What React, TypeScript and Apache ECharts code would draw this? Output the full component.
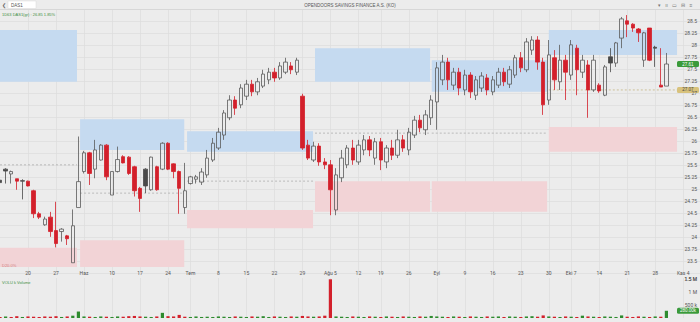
import React, { useEffect, useRef } from "react";
import * as echarts from "echarts";

// ---------- DATA ----------
const CATEGORY_COUNT = 126; // trading-day slots (incl. a few future slots on the right)

const weekTicks: [number, string][] = [
  [5, "20"], [10, "27"], [15, "Haz"], [20, "10"], [25, "17"], [30, "24"],
  [34, "Tem"], [39, "8"], [44, "15"], [49, "22"], [54, "29"], [59, "Ağu 5"],
  [64, "12"], [68, "19"], [73, "26"], [78, "Eyl"], [83, "9"], [88, "16"],
  [93, "23"], [98, "30"], [102, "Eki 7"], [107, "14"], [112, "21"], [117, "28"],
  [122, "Kas 4"],
];

// [open, close, low, high]
const candles: number[][] = [
  [25.19, 25.14, 25.02, 25.25], [25.42, 25.38, 25.12, 25.44], [25.32, 25.37, 25.12, 25.39],
  [25.22, 25.17, 24.99, 25.22], [25.18, 25.17, 24.79, 25.21], [25.17, 25.07, 25.06, 25.18],
  [24.97, 24.49, 24.40, 24.99], [24.49, 24.42, 24.38, 24.53], [24.26, 24.38, 24.24, 24.43],
  [24.42, 24.12, 24.01, 24.53], [24.14, 23.87, 23.79, 24.74], [24.12, 24.17, 23.91, 24.19],
  [24.03, 23.97, 23.84, 24.05], [23.47, 24.24, 23.47, 24.58], [24.62, 25.16, 24.62, 26.10],
  [25.37, 25.76, 25.33, 25.80], [25.76, 25.33, 25.09, 25.78], [25.42, 25.82, 25.23, 26.03],
  [25.61, 25.92, 25.60, 25.94], [25.92, 25.26, 25.19, 25.94], [24.88, 25.37, 24.88, 25.37],
  [25.37, 25.62, 25.35, 25.89], [25.68, 25.55, 25.54, 25.71], [25.67, 25.33, 25.30, 25.69],
  [25.47, 24.97, 24.85, 25.49], [25.02, 24.81, 24.53, 25.05], [25.42, 25.07, 24.92, 25.44],
  [24.99, 25.67, 24.97, 25.68], [25.47, 24.99, 24.97, 25.49], [25.42, 25.96, 25.40, 25.98],
  [25.96, 25.42, 25.40, 25.98], [25.53, 25.37, 25.23, 25.54], [25.37, 25.02, 24.49, 25.39],
  [24.62, 24.97, 24.49, 25.55], [25.12, 25.26, 25.10, 25.28], [25.21, 25.26, 25.12, 25.30],
  [25.15, 25.36, 25.09, 25.44], [25.30, 25.65, 25.24, 25.82], [25.61, 25.96, 25.57, 26.07],
  [25.86, 26.19, 25.82, 26.28], [26.13, 26.59, 26.03, 26.65], [26.49, 26.86, 26.44, 26.96],
  [26.86, 26.69, 26.55, 26.94], [26.76, 27.11, 26.69, 27.19], [26.94, 27.19, 26.86, 27.28],
  [27.19, 27.03, 26.94, 27.28], [27.03, 27.24, 26.96, 27.32], [27.15, 27.40, 27.11, 27.49],
  [27.28, 27.44, 27.19, 27.53], [27.44, 27.32, 27.24, 27.53], [27.32, 27.57, 27.28, 27.65],
  [27.44, 27.65, 27.40, 27.74], [27.57, 27.49, 27.40, 27.65], [27.44, 27.69, 27.38, 27.74],
  [26.94, 25.86, 25.82, 26.99], [25.92, 25.65, 25.61, 26.03], [25.61, 25.90, 25.57, 25.99],
  [25.90, 25.57, 25.49, 25.96], [25.57, 25.51, 25.42, 25.65], [25.51, 24.99, 24.46, 25.61],
  [24.57, 25.30, 24.46, 25.44], [25.24, 25.65, 25.15, 25.82], [25.51, 25.86, 25.44, 25.92],
  [25.86, 25.61, 25.51, 26.03], [25.57, 25.92, 25.51, 26.03], [25.82, 26.03, 25.71, 26.13],
  [26.03, 25.82, 25.69, 26.11], [25.65, 25.99, 25.51, 26.07], [25.99, 25.61, 25.40, 26.07],
  [25.57, 25.86, 25.44, 25.92], [25.86, 25.71, 25.61, 26.03], [25.71, 26.03, 25.65, 26.24],
  [26.03, 25.86, 25.78, 26.13], [25.82, 26.19, 25.71, 26.28], [26.13, 26.44, 26.07, 26.53],
  [26.44, 26.28, 26.19, 26.55], [26.24, 26.55, 26.13, 26.65], [26.49, 26.86, 26.34, 26.96],
  [26.82, 27.53, 26.24, 27.65], [27.28, 27.65, 27.17, 27.80], [27.65, 27.28, 27.07, 27.74],
  [27.17, 27.44, 27.07, 27.53], [27.44, 27.11, 26.96, 27.53], [27.07, 27.38, 26.96, 27.49],
  [27.38, 27.03, 26.90, 27.44], [26.96, 27.28, 26.86, 27.36], [27.11, 27.36, 27.03, 27.44],
  [27.32, 27.07, 26.96, 27.40], [27.03, 27.28, 26.96, 27.36], [27.17, 27.44, 27.11, 27.53],
  [27.44, 27.24, 27.15, 27.53], [27.19, 27.49, 27.11, 27.57], [27.38, 27.74, 27.32, 27.80],
  [27.74, 27.53, 27.44, 27.86], [27.49, 28.07, 27.44, 28.15], [27.90, 28.11, 27.80, 28.19],
  [28.11, 27.65, 27.49, 28.19], [27.65, 26.76, 26.55, 27.74], [26.86, 27.80, 26.76, 28.11],
  [27.74, 27.28, 27.07, 27.90], [27.24, 27.69, 27.07, 28.01], [27.69, 27.44, 26.86, 27.80],
  [27.38, 28.01, 27.28, 28.11], [27.94, 27.49, 26.96, 28.01], [27.44, 27.69, 27.32, 27.80],
  [27.59, 27.07, 26.49, 27.69], [27.07, 27.69, 27.03, 27.80], [27.17, 27.05, 27.01, 27.21],
  [26.96, 27.55, 26.94, 27.59], [27.76, 27.63, 27.44, 27.94], [27.63, 28.05, 27.55, 28.07],
  [28.15, 28.55, 27.94, 28.59], [28.51, 28.44, 28.17, 28.63], [28.44, 28.36, 28.28, 28.46],
  [28.34, 28.26, 28.07, 28.36], [27.69, 28.26, 27.55, 28.28], [28.36, 27.69, 27.67, 28.36],
  [27.96, 27.94, 27.55, 27.99], [27.17, 27.13, 27.13, 27.94], [27.15, 27.61, 27.15, 27.84],
];

const volumes: number[] = [
  40000, 60000, 40000, 70000, 40000, 60000, 50000, 40000, 60000, 50000,
  70000, 40000, 60000, 90000, 250000, 60000, 50000, 40000, 60000, 50000,
  40000, 60000, 50000, 70000, 80000, 60000, 50000, 40000, 60000, 200000,
  70000, 60000, 120000, 50000, 40000, 60000, 40000, 50000, 40000, 60000,
  50000, 40000, 60000, 50000, 40000, 60000, 50000, 70000, 40000, 60000,
  50000, 40000, 60000, 50000, 80000, 60000, 50000, 60000, 90000, 1500000,
  60000, 50000, 40000, 60000, 50000, 40000, 60000, 50000, 40000, 60000,
  50000, 40000, 60000, 50000, 40000, 60000, 50000, 80000, 60000, 50000,
  40000, 60000, 50000, 40000, 60000, 50000, 40000, 60000, 50000, 60000,
  40000, 60000, 50000, 40000, 60000, 70000, 50000, 100000, 60000, 50000,
  40000, 60000, 50000, 40000, 90000, 60000, 50000, 40000, 60000, 50000,
  40000, 100000, 50000, 40000, 60000, 50000, 40000, 60000, 50000, 280000,
];

// monthly supply / demand zones (from/to in trading-day units)
const zoneFrom = [0, 14.3, 33.4, 56.25, 77.1, 98];
const zoneTo = [13.75, 32.9, 55.9, 76.8, 97.7, 120.9];
const supplyTop = [28.32, 26.46, 26.21, 27.94, 27.69, 28.32];
const supplyBottom = [27.24, 25.82, 25.78, 27.24, 27.03, 27.8];
const demandTop = [23.78, 23.94, 24.57, 25.17, 25.17, 26.3];
const demandBottom = [23.38, 23.38, 24.19, 24.53, 24.53, 25.78];
const zoneMid = [25.51, 24.92, 25.17, 26.17, 26.17, 27.07];

const PRICE_MIN = 23.25;
const PRICE_MAX = 28.75;
const PRICE_STEP = 0.25;
const VOL_MAX = 1550000;
const VOL_STEP = 500000;

// ---------- COMPONENT ----------
const BG = "#ececec";
const GRID = "#dcdcdc";
const RED = "#d3202b";
const HOLLOW_BORDER = "#5a5a5a";
const DARK = "#4a4a4a";
const GREEN = "#2e8b2e";

export default function App() {
  const ref = useRef<HTMLDivElement>(null);

  useEffect(() => {
    const chart = echarts.init(ref.current!, null, { renderer: "svg" });
    const tickMap = new Map<number, string>(weekTicks);
    const isTick = (i: number) => tickMap.has(i);
    const categories = Array.from({ length: CATEGORY_COUNT }, (_, i) => String(i));

    const candleData = candles.map((c, i) => {
      const [o, cl] = c;
      const prevClose = i > 0 ? candles[i - 1][1] : Infinity;
      let itemStyle;
      if (cl >= o) {
        itemStyle = { color: "rgba(0,0,0,0)", borderColor: HOLLOW_BORDER, color0: "rgba(0,0,0,0)", borderColor0: HOLLOW_BORDER };
      } else if (cl >= prevClose || i === 0) {
        itemStyle = { color: DARK, color0: DARK, borderColor: DARK, borderColor0: DARK };
      } else {
        itemStyle = { color: RED, color0: RED, borderColor: RED, borderColor0: RED };
      }
      return { value: c, itemStyle };
    });

    const volData = volumes.map((v, i) => {
      const prevClose = i > 0 ? candles[i - 1][1] : candles[i][0];
      return { value: v, itemStyle: { color: candles[i][1] >= prevClose ? GREEN : RED } };
    });

    const zoneData = zoneFrom.map((f, k) => [Math.round(f), zoneMid[k]]);

    const option: any = {
      animation: false,
      backgroundColor: BG,
      textStyle: { fontFamily: "Roboto, 'Noto Sans', sans-serif" },
      grid: [
        { left: 0, width: 700, top: 9.3, height: 264, containLabel: false },
        { left: 0, width: 700, top: 278, height: 40, containLabel: false },
      ],
      xAxis: [
        {
          type: "category", gridIndex: 0, data: categories, boundaryGap: false,
          axisLabel: { show: false }, axisTick: { show: false }, axisLine: { show: false },
          splitLine: { show: true, interval: (i: number) => isTick(i), lineStyle: { color: GRID, width: 0.7 } },
        },
        {
          type: "category", gridIndex: 1, data: categories, boundaryGap: false, position: "top",
          axisLine: { show: false }, axisTick: { show: false },
          axisLabel: {
            show: true, interval: (i: number) => isTick(i), margin: 3,
            formatter: (_v: string, i: number) => tickMap.get(i) ?? "",
            fontSize: 5, color: "#555",
          },
          splitLine: { show: true, interval: (i: number) => isTick(i), lineStyle: { color: GRID, width: 0.7 } },
        },
      ],
      yAxis: [
        {
          type: "value", gridIndex: 0, position: "right", min: PRICE_MIN, max: PRICE_MAX, interval: PRICE_STEP,
          axisLine: { show: false }, axisTick: { show: false },
          axisLabel: { inside: true, margin: 3, fontSize: 5, color: "#555", showMinLabel: false, showMaxLabel: false },
          splitLine: { show: true, lineStyle: { color: GRID, width: 0.7 } },
        },
        {
          type: "value", gridIndex: 1, position: "right", min: 0, max: VOL_MAX, interval: VOL_STEP,
          axisLine: { show: false }, axisTick: { show: false },
          axisLabel: {
            inside: true, margin: 3, fontSize: 5, color: "#555", showMaxLabel: false,
            formatter: (v: number) => (v >= 1000000 ? v / 1000000 + " M" : v > 0 ? v / 1000 + " k" : ""),
          },
          splitLine: { show: false },
        },
      ],
      series: [
        {
          type: "custom", xAxisIndex: 0, yAxisIndex: 0, z: 1, data: zoneData, silent: true,
          renderItem: (params: any, api: any) => {
            const k = params.dataIndex;
            const c0 = api.coord([0, supplyTop[k]]);
            const c1 = api.coord([1, supplyTop[k]]);
            const step = c1[0] - c0[0];
            const x0 = c0[0] + zoneFrom[k] * step;
            const x1 = c0[0] + zoneTo[k] * step;
            const yST = api.coord([0, supplyTop[k]])[1];
            const ySB = api.coord([0, supplyBottom[k]])[1];
            const yDT = api.coord([0, demandTop[k]])[1];
            const yDB = api.coord([0, demandBottom[k]])[1];
            const yM = api.coord([0, zoneMid[k]])[1];
            const last = k === supplyTop.length - 1;
            return {
              type: "group",
              children: [
                { type: "rect", shape: { x: x0, y: yST, width: x1 - x0, height: ySB - yST }, style: { fill: "#c5daf0" } },
                { type: "rect", shape: { x: x0, y: yDT, width: x1 - x0, height: yDB - yDT }, style: { fill: "#f2d3d6" } },
                {
                  type: "line", shape: { x1: x0, y1: yM, x2: x1, y2: yM },
                  style: { stroke: last ? "#b8a262" : "#9a9a9a", lineWidth: 0.6, lineDash: [2, 2] },
                },
              ],
            };
          },
        },
        {
          type: "candlestick", xAxisIndex: 0, yAxisIndex: 0, z: 3, data: candleData,
          barWidth: 3.8, itemStyle: { borderWidth: 0.8 },
        },
        {
          type: "bar", xAxisIndex: 1, yAxisIndex: 1, data: volData, barWidth: 3.2,
        },
      ],
    };
    chart.setOption(option);

    const lastClose = candles[candles.length - 1][1];
    const yLast = chart.convertToPixel({ yAxisIndex: 0 }, lastClose) as number;
    const refLevel = zoneMid[zoneMid.length - 1];
    const yRef = chart.convertToPixel({ yAxisIndex: 0 }, refLevel) as number;
    const lastVol = volumes[volumes.length - 1];
    const yVol = chart.convertToPixel({ yAxisIndex: 1 }, lastVol) as number;
    const yVolTop = chart.convertToPixel({ yAxisIndex: 1 }, 1500000) as number;

    const badge = (y: number, text: string, fill: string, color: string) => ({
      type: "group", z: 100,
      children: [
        { type: "rect", shape: { x: 677, y: y - 3, width: 22, height: 6, r: 1.5 }, style: { fill } },
        { type: "text", style: { x: 688, y, text, fill: color, fontSize: 4.5, align: "center", verticalAlign: "middle" } },
      ],
    });

    chart.setOption({
      graphic: [
        { type: "line", shape: { x1: 0, y1: 9.5, x2: 700, y2: 9.5 }, style: { stroke: "#d4d4d4", lineWidth: 0.8 }, z: 50 },
        { type: "rect", shape: { x: 0, y: 0, width: 700, height: 9 }, style: { fill: BG }, z: 49 },
        { type: "text", style: { x: 2, y: 5, text: "❮", fill: "#666", fontSize: 5, verticalAlign: "middle" }, z: 51 },
        { type: "rect", shape: { x: 8, y: 1, width: 28, height: 7.5 }, style: { fill: "#ffffff", stroke: "#d8d8d8", lineWidth: 0.5 }, z: 51 },
        { type: "text", style: { x: 11, y: 5, text: "DAS1", fill: "#555", fontSize: 4.5, verticalAlign: "middle" }, z: 52 },
        { type: "text", style: { x: 350, y: 5, text: "OPENDOORS SAVINGS FINANCE A.S. (KO)", fill: "#555", fontSize: 4.5, align: "center", verticalAlign: "middle" }, z: 52 },
        { type: "text", style: { x: 658, y: 5, text: "▾   ıı   ▭   ⊟   ≡", fill: "#777", fontSize: 5, align: "left", verticalAlign: "middle" }, z: 52 },
        { type: "text", style: { x: 2, y: 14, text: "1D63 DAS1(gr) : 26.85 1.85%", fill: "#3f8f3f", fontSize: 4, verticalAlign: "middle" }, z: 52 },
        { type: "text", style: { x: 2, y: 282, text: "VOLU k Volume", fill: "#3f8f3f", fontSize: 4, verticalAlign: "middle" }, z: 52 },
        { type: "text", style: { x: 2, y: 265, text: "D20.0%", fill: "#d08080", fontSize: 4, verticalAlign: "middle" }, z: 52 },
        { type: "text", style: { x: 697, y: yVolTop, text: "1.5 M", fill: "#555", fontSize: 5, align: "right", verticalAlign: "middle" }, z: 52 },
        badge(yLast, lastClose.toFixed(2), "#3a9a3a", "#ffffff"),
        badge(yRef, refLevel.toFixed(2), "#d8c27c", "#4a4a4a"),
        badge(yVol, (lastVol / 1000).toFixed(2) + "k", "#3a9a3a", "#ffffff"),
      ],
    });

    return () => chart.dispose();
  }, []);

  return (
    <div
      ref={ref}
      style={{ position: "fixed", left: 0, top: 0, width: 700, height: 322, background: BG }}
    />
  );
}
